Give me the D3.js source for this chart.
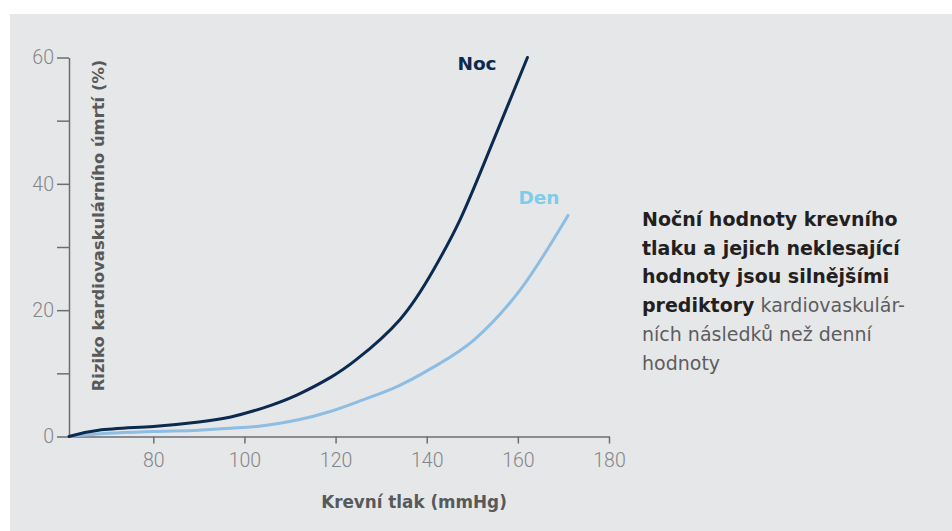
<!DOCTYPE html>
<html>
<head>
<meta charset="utf-8">
<script src="https://cdn.jsdelivr.net/npm/d3@7"></script>
<style>
  html, body { margin: 0; padding: 0; background: #fff; }
  svg { display: block; }
</style>
</head>
<body>
<div id="chart"></div>
<script>
// ---
// Data
// ---
const pressure = [61.5, 68, 80, 90, 97, 104, 111.6, 119, 124.6, 134.1, 141.5, 147.3, 153.3, 162.1]
const nocValues = [0, 1.0, 1.6, 2.3, 3.1, 4.5, 6.6, 9.4, 12.2, 18.5, 26.4, 34.3, 44.5, 60]

const pressureDen = [61.5, 70, 80, 90, 97, 104, 111.6, 119, 126, 133.5, 140.8, 150.4, 160.6, 171]
const denValues = [0, 0.5, 0.8, 1.0, 1.3, 1.7, 2.6, 4.0, 5.8, 7.9, 10.7, 15.3, 23.3, 35]

const xTicks = [80, 100, 120, 140, 160, 180]
const yTicks = [0, 10, 20, 30, 40, 50, 60]
const yLabelled = [0, 20, 40, 60]

const noteBold = ['Noční hodnoty krevního', 'tlaku a jejich neklesající', 'hodnoty jsou silnějšími']
const noteMixed = ['prediktory', ' kardiovaskulár-']
const noteRest = ['ních následků než denní', 'hodnoty']

// ---
// Chart
// ---
const W = 952
const H = 531
const svg = d3.select('#chart').append('svg')
    .attr('width', W)
    .attr('height', H)

svg.append('rect')
    .attr('x', 10)
    .attr('y', 14)
    .attr('width', W - 10)
    .attr('height', H - 14)
    .attr('fill', '#e6e7e9')

const xScale = d3.scaleLinear()
  .domain([61.5, 180])
  .range([69, 609])

const yScale = d3.scaleLinear()
  .domain([0, 60])
  .range([436.5, 57.5])

const tickFont = 'Roboto, "Open Sans", sans-serif'
const textFont = '"DejaVu Sans", sans-serif'

// Axes
const xAxis = d3.axisBottom(xScale)
  .tickValues(xTicks)
  .tickSize(7)
  .tickSizeOuter(0)
  .tickPadding(10)

const yAxis = d3.axisLeft(yScale)
  .tickValues(yTicks)
  .tickFormat(d => yLabelled.includes(d) ? d : '')
  .tickSize(12)
  .tickSizeOuter(0)
  .tickPadding(3)

const gx = svg.append('g')
    .attr('transform', `translate(0, ${yScale(0)})`)
    .call(xAxis)

const gy = svg.append('g')
    .attr('transform', `translate(${xScale(61.5)}, 0)`)
    .call(yAxis)

;[gx, gy].forEach(g => {
  g.selectAll('path, line')
    .attr('stroke', '#6d6e71')
    .attr('stroke-width', 1.5)
  g.selectAll('text')
    .attr('fill', '#848588')
    .style('font-family', tickFont)
    .style('font-weight', 300)
    .style('font-size', '19.5px')
})

// Axis titles
svg.append('text')
    .attr('x', 414)
    .attr('y', 508)
    .attr('text-anchor', 'middle')
    .attr('fill', '#58595b')
    .style('font-family', textFont)
    .style('font-weight', 700)
    .style('font-size', '16.8px')
    .text('Krevní tlak (mmHg)')

svg.append('text')
    .attr('transform', 'translate(104, 225.5) rotate(-90)')
    .attr('text-anchor', 'middle')
    .attr('fill', '#58595b')
    .style('font-family', textFont)
    .style('font-weight', 700)
    .style('font-size', '16.4px')
    .text('Riziko kardiovaskulárního úmrtí (%)')

// Lines
const line = d3.line()
  .x(d => xScale(d[0]))
  .y(d => yScale(d[1]))
  .curve(d3.curveMonotoneX)

svg.append('path')
    .datum(pressureDen.map((p, i) => [p, denValues[i]]))
    .attr('d', line)
    .attr('fill', 'none')
    .attr('stroke', '#8dbde3')
    .attr('stroke-width', 3)
    .attr('stroke-linecap', 'round')

svg.append('path')
    .datum(pressure.map((p, i) => [p, nocValues[i]]))
    .attr('d', line.curve(d3.curveNatural))
    .attr('fill', 'none')
    .attr('stroke', '#0b2a4f')
    .attr('stroke-width', 3)
    .attr('stroke-linecap', 'round')

// Series labels
svg.append('text')
    .attr('x', 477)
    .attr('y', 70)
    .attr('text-anchor', 'middle')
    .attr('fill', '#0b2a4f')
    .style('font-family', textFont)
    .style('font-weight', 700)
    .style('font-size', '18.5px')
    .text('Noc')

svg.append('text')
    .attr('x', 539)
    .attr('y', 204)
    .attr('text-anchor', 'middle')
    .attr('fill', '#7fcce9')
    .style('font-family', textFont)
    .style('font-weight', 700)
    .style('font-size', '18.5px')
    .text('Den')

// Note
const note = svg.append('text')
    .attr('x', 642)
    .attr('y', 226)
    .attr('fill', '#231f20')
    .style('font-family', textFont)
    .style('font-size', '19px')

const lh = 28.7
noteBold.forEach((t, i) => {
  note.append('tspan')
      .attr('x', 642)
      .attr('y', 226 + i * lh)
      .style('font-weight', 700)
      .text(t)
})
note.append('tspan')
    .attr('x', 642)
    .attr('y', 226 + 3 * lh)
    .style('font-weight', 700)
    .text(noteMixed[0])
note.append('tspan')
    .attr('fill', '#5c5d60')
    .style('font-weight', 400)
    .text(noteMixed[1])
noteRest.forEach((t, i) => {
  note.append('tspan')
      .attr('x', 642)
      .attr('y', 226 + (4 + i) * lh)
      .attr('fill', '#5c5d60')
      .style('font-weight', 400)
      .text(t)
})
</script>
</body>
</html>
